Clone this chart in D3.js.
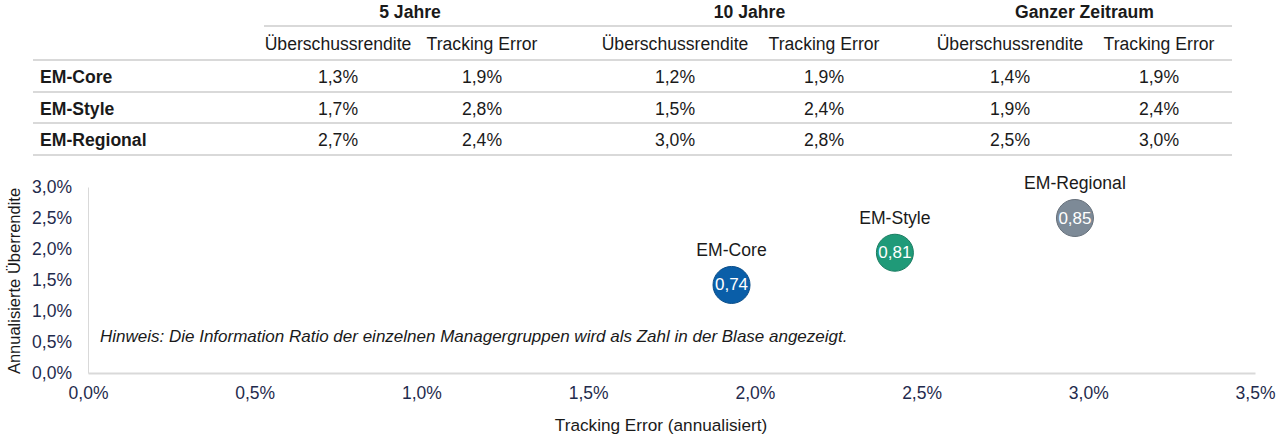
<!DOCTYPE html>
<html><head><meta charset="utf-8">
<script src="https://cdn.jsdelivr.net/npm/d3@7"></script>
<style>
html,body{margin:0;padding:0;background:#fff;}
svg{display:block;font-family:"Liberation Sans",Arial,sans-serif;}
</style></head>
<body>
<svg id="c" width="1280" height="439"></svg>
<script>
// ---- data ----
const groups = ["5 Jahre", "10 Jahre", "Ganzer Zeitraum"];
const subHeaders = ["Überschussrendite", "Tracking Error"];
const managers = ["EM-Core", "EM-Style", "EM-Regional"];
const excess5 = [1.3, 1.7, 2.7];
const te5 = [1.9, 2.8, 2.4];
const excess10 = [1.2, 1.5, 3.0];
const te10 = [1.9, 2.4, 2.8];
const excessAll = [1.4, 1.9, 2.5];
const teAll = [1.9, 2.4, 3.0];
const bubbleTE = [1.93, 2.42, 2.96];
const bubbleExcess = [1.42, 1.94, 2.50];
const infoRatio = [0.74, 0.81, 0.85];
const bubbleColors = ["#0a5ea8", "#1f9a78", "#7d8a97"];
const xTicks = [0, 0.5, 1.0, 1.5, 2.0, 2.5, 3.0, 3.5];
const yTicks = [0, 0.5, 1.0, 1.5, 2.0, 2.5, 3.0];
const note = "Hinweis: Die Information Ratio der einzelnen Managergruppen wird als Zahl in der Blase angezeigt.";
const xTitle = "Tracking Error (annualisiert)";
const yTitle = "Annualisierte Überrendite";

const loc = d3.formatLocale({decimal: ",", thousands: ".", grouping: [3], currency: ["", "€"]});
const f1 = loc.format(".1f");
const f2 = loc.format(".2f");
const pct = v => f1(v) + "%";

const svg = d3.select("#c");
const lineCol = "#d9d9d9";
const txt = "#1a1a1a";
const FS = 17.6;

// ---- table ----
const cc = [338, 482, 675, 824, 1010, 1159];
const rowY = d3.scalePoint().domain(managers).range([77, 140]);
const table = svg.append("g");
const tableCols = [excess5, te5, excess10, te10, excessAll, teAll];

groups.forEach((g, i) => {
  table.append("text").attr("x", (cc[2*i] + cc[2*i+1]) / 2).attr("y", 12)
    .attr("text-anchor", "middle").attr("dominant-baseline", "central")
    .attr("font-size", FS).attr("font-weight", "bold").attr("fill", txt).text(g);
  subHeaders.forEach((s, j) => {
    table.append("text").attr("x", cc[2*i + j]).attr("y", 44)
      .attr("text-anchor", "middle").attr("dominant-baseline", "central")
      .attr("font-size", FS).attr("fill", txt).text(s);
  });
});
table.append("line").attr("x1", 264).attr("x2", 1232).attr("y1", 26).attr("y2", 26)
  .attr("stroke", lineCol).attr("stroke-width", 2);
[60, 92, 123, 155].forEach(y => {
  table.append("line").attr("x1", 33).attr("x2", 1232).attr("y1", y).attr("y2", y)
    .attr("stroke", lineCol).attr("stroke-width", 2);
});
managers.forEach((m, r) => {
  const y = rowY(m);
  table.append("text").attr("x", 40).attr("y", y).attr("dominant-baseline", "central")
    .attr("font-size", FS).attr("font-weight", "bold").attr("fill", txt).text(m);
  tableCols.forEach((col, c) => {
    table.append("text").attr("x", cc[c]).attr("y", y)
      .attr("text-anchor", "middle").attr("dominant-baseline", "central")
      .attr("font-size", FS).attr("fill", txt).text(pct(col[r]));
  });
});

// ---- scatter ----
const x = d3.scaleLinear().domain([0, 3.5]).range([88, 1255]);
const y = d3.scaleLinear().domain([0, 3.0]).range([373, 187]);
const tickCol = "#1f2b4d";

const xAxis = svg.append("g").attr("transform", "translate(0,373)")
  .call(d3.axisBottom(x).tickValues(xTicks).tickFormat(pct).tickSize(0).tickPadding(14));
xAxis.select(".domain").attr("stroke", lineCol).attr("stroke-width", 2);
xAxis.selectAll("text").attr("font-size", 17.5).attr("fill", tickCol)
  .attr("font-family", "Liberation Sans, Arial, sans-serif");

const yAxis = svg.append("g").attr("transform", "translate(88,0)")
  .call(d3.axisLeft(y).tickValues(yTicks).tickFormat(pct).tickSize(0).tickPadding(16));
yAxis.select(".domain").attr("stroke", lineCol).attr("stroke-width", 1);
yAxis.selectAll("text").attr("font-size", 17.5).attr("fill", tickCol)
  .attr("font-family", "Liberation Sans, Arial, sans-serif");

svg.append("text").attr("x", 100).attr("y", 336).attr("dominant-baseline", "central")
  .attr("font-size", 17).attr("font-style", "italic").attr("fill", txt).text(note);

svg.append("text").attr("x", 661).attr("y", 425).attr("text-anchor", "middle")
  .attr("dominant-baseline", "central").attr("font-size", 17.2).attr("fill", txt).text(xTitle);
svg.append("text").attr("transform", "translate(14,281) rotate(-90)").attr("text-anchor", "middle")
  .attr("dominant-baseline", "central").attr("font-size", 16.5).attr("fill", txt).text(yTitle);

const bub = svg.append("g");
managers.forEach((m, i) => {
  const cx = x(bubbleTE[i]), cy = y(bubbleExcess[i]);
  bub.append("circle").attr("cx", cx).attr("cy", cy).attr("r", 18.5)
    .attr("fill", bubbleColors[i]).attr("stroke", d3.color(bubbleColors[i]).darker(0.6)).attr("stroke-width", 1);
  bub.append("text").attr("x", cx).attr("y", cy).attr("text-anchor", "middle")
    .attr("dominant-baseline", "central").attr("font-size", 17).attr("fill", "#fff").text(f2(infoRatio[i]));
  bub.append("text").attr("x", cx).attr("y", cy - 35).attr("text-anchor", "middle")
    .attr("dominant-baseline", "central").attr("font-size", 17.6).attr("fill", txt).text(m);
});
</script>
</body></html>
